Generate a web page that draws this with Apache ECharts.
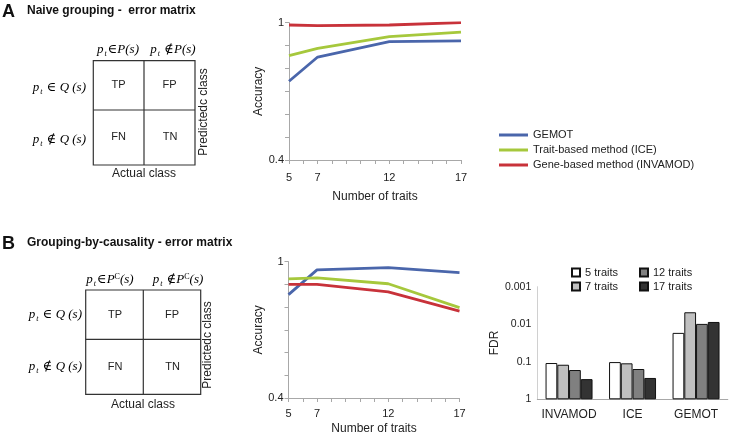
<!DOCTYPE html>
<html>
<head>
<meta charset="utf-8">
<script src="https://cdn.jsdelivr.net/npm/echarts@6/dist/echarts.min.js"></script>
<style>
html,body{margin:0;padding:0;background:#fff;}
#chart{width:729px;height:436px;}
</style>
</head>
<body>
<div id="chart"></div>
<script>
// ---- data ----
const traits = [5, 7, 12, 17];
const xTickLabels = [5, 7, 12, 17];
const yTickLabels = [0.4, 1];
const seriesNames = ['GEMOT', 'Trait-based method (ICE)', 'Gene-based method (INVAMOD)'];
const accA_GEMOT = [0.744, 0.850, 0.917, 0.921];
const accA_ICE = [0.856, 0.888, 0.939, 0.959];
const accA_INVAMOD = [0.990, 0.987, 0.990, 1.000];
const accB_GEMOT = [0.855, 0.964, 0.974, 0.952];
const accB_ICE = [0.924, 0.929, 0.903, 0.798];
const accB_INVAMOD = [0.900, 0.900, 0.867, 0.782];
const fdrCategories = ['INVAMOD', 'ICE', 'GEMOT'];
const fdrSeriesNames = ['5 traits', '7 traits', '12 traits', '17 traits'];
const fdr5 = [0.108, 0.102, 0.017];
const fdr7 = [0.120, 0.110, 0.0048];
const fdr12 = [0.166, 0.156, 0.0098];
const fdr17 = [0.290, 0.270, 0.0087];
const fdrTickLabels = [0.001, 0.01, 0.1, 1];

// ---- styles ----
const SANS = 'Liberation Sans, Arial, sans-serif';
const SERIF = 'Liberation Serif, DejaVu Serif, serif';
const lineColors = ['#4a66ab', '#a6c83c', '#c8323a'];
const barColors = ['#ffffff', '#c0c0c0', '#808080', '#333333'];
const axisGray = '#a8a8a8';

const chart = echarts.init(document.getElementById('chart'), null, {renderer: 'canvas'});

function pairs(ys) { return traits.map((x, i) => [x, ys[i]]); }

function lineX(gi) {
  return {
    type: 'value', gridIndex: gi, min: 5, max: 17, interval: 1,
    name: 'Number of traits', nameLocation: 'middle', nameGap: gi === 0 ? 31 : 25,
    nameTextStyle: {fontFamily: SANS, fontSize: 12, color: '#222'},
    axisLine: {lineStyle: {color: axisGray}},
    axisTick: {length: 4, lineStyle: {color: axisGray}},
    axisLabel: {fontFamily: SANS, fontSize: 11, color: '#222', margin: gi === 0 ? 12 : 10,
      formatter: v => xTickLabels.includes(v) ? String(v) : ''},
    splitLine: {show: false}
  };
}
function lineY(gi) {
  return {
    type: 'value', gridIndex: gi, min: 0.4, max: 1, interval: 0.1,
    name: 'Accuracy', nameLocation: 'middle', nameGap: 17,
    nameTextStyle: {fontFamily: SANS, fontSize: 12, color: '#222'},
    axisLine: {show: true, lineStyle: {color: axisGray}},
    axisTick: {show: true, length: 4, lineStyle: {color: axisGray}},
    axisLabel: {fontFamily: SANS, fontSize: 11, color: '#222', margin: 5,
      formatter: v => yTickLabels.some(t => Math.abs(t - v) < 1e-9) ? String(+v.toFixed(1)) : ''},
    splitLine: {show: false}
  };
}
function lineSeries(name, data, gi, ci) {
  return {
    type: 'line', name: name, xAxisIndex: gi, yAxisIndex: gi, data: pairs(data),
    showSymbol: false, symbol: 'none', lineStyle: {width: 2.8, color: lineColors[ci]},
    itemStyle: {color: lineColors[ci]}, silent: true, animation: false
  };
}
function barSeries(name, data, ci) {
  return {
    type: 'bar', name: name, xAxisIndex: 2, yAxisIndex: 2, data: data,
    barGap: '0%', barCategoryGap: '26%',
    itemStyle: {color: barColors[ci], borderColor: '#111', borderWidth: 1},
    animation: false
  };
}

const mathRich = {
  i: {fontFamily: SERIF, fontStyle: 'italic', fontSize: 13, color: '#222'},
  n: {fontFamily: SERIF, fontSize: 13, color: '#222'},
  sub: {fontFamily: SERIF, fontStyle: 'italic', fontSize: 8, color: '#222', verticalAlign: 'bottom', padding: [7, 1, 0, 1]},
  sup: {fontFamily: SERIF, fontSize: 8, color: '#222', verticalAlign: 'top', padding: [0, 0, 6, 0]}
};
function mathText(x, y, text, align) {
  return {type: 'text', x: x, y: y, silent: true,
    style: {text: text, rich: mathRich, align: align || 'center', verticalAlign: 'middle'}};
}
function plainText(x, y, text, opts) {
  return {type: 'text', x: x, y: y, silent: true, rotation: (opts && opts.rotation) || 0,
    style: Object.assign({text: text, fontFamily: SANS, fontSize: 12, fill: '#222', align: 'center', verticalAlign: 'middle'}, opts && opts.style)};
}
function matrix(x, y, w, h, mx, my) {
  return [
    {type: 'rect', shape: {x: x, y: y, width: w, height: h}, silent: true, style: {fill: 'none', stroke: '#333', lineWidth: 1.2}},
    {type: 'line', shape: {x1: mx, y1: y, x2: mx, y2: y + h}, silent: true, style: {stroke: '#333', lineWidth: 1.2}},
    {type: 'line', shape: {x1: x, y1: my, x2: x + w, y2: my}, silent: true, style: {stroke: '#333', lineWidth: 1.2}}
  ];
}

const graphics = [].concat(
  // Panel A
  [plainText(2, 3, 'A', {style: {fontSize: 18, fontWeight: 'bold', align: 'left', verticalAlign: 'top', fill: '#111'}}),
   plainText(27, 11, 'Naive grouping -  error matrix', {style: {fontSize: 12, fontWeight: 'bold', align: 'left', fill: '#111'}})],
  matrix(93.3, 60.7, 101.7, 104.3, 144, 110),
  [mathText(118, 50, '{i|p}{sub|t}{n|\u2208}{i|P(s)}'),
   mathText(173, 50, '{i|p}{sub|t}{n| \u2209}{i|P(s)}'),
   mathText(86, 88, '{i|p}{sub|t}{n| \u2208 }{i|Q (s)}', 'right'),
   mathText(86, 140, '{i|p}{sub|t}{n| \u2209 }{i|Q (s)}', 'right'),
   plainText(118.5, 85, 'TP', {style: {fontSize: 11}}),
   plainText(169.5, 85, 'FP', {style: {fontSize: 11}}),
   plainText(118.5, 137, 'FN', {style: {fontSize: 11}}),
   plainText(170, 137, 'TN', {style: {fontSize: 11}}),
   plainText(144, 174, 'Actual class'),
   plainText(204, 112, 'Predictedc class', {rotation: Math.PI / 2})],
  // Panel B
  [plainText(2, 235, 'B', {style: {fontSize: 18, fontWeight: 'bold', align: 'left', verticalAlign: 'top', fill: '#111'}}),
   plainText(27, 243, 'Grouping-by-causality - error matrix', {style: {fontSize: 12, fontWeight: 'bold', align: 'left', fill: '#111'}})],
  matrix(85.7, 290, 115, 104.3, 143.3, 339.3),
  [mathText(110, 280, '{i|p}{sub|t}{n|\u2208}{i|P}{sup|C}{i|(s)}'),
   mathText(178, 280, '{i|p}{sub|t}{n| \u2209}{i|P}{sup|C}{i|(s)}'),
   mathText(82, 315, '{i|p}{sub|t}{n| \u2208 }{i|Q (s)}', 'right'),
   mathText(82, 367, '{i|p}{sub|t}{n| \u2209 }{i|Q (s)}', 'right'),
   plainText(115, 315, 'TP', {style: {fontSize: 11}}),
   plainText(172, 315, 'FP', {style: {fontSize: 11}}),
   plainText(115, 367, 'FN', {style: {fontSize: 11}}),
   plainText(172.5, 367, 'TN', {style: {fontSize: 11}}),
   plainText(143, 405, 'Actual class'),
   plainText(208, 345, 'Predictedc class', {rotation: Math.PI / 2})]
);

const option = {
  backgroundColor: '#fff',
  animation: false,
  grid: [
    {left: 289, top: 22.7, width: 172, height: 137.3, containLabel: false},
    {left: 288.5, top: 261.7, width: 171, height: 138.3, containLabel: false},
    {left: 537.3, top: 286.7, width: 190.5, height: 112.6, containLabel: false}
  ],
  xAxis: [
    lineX(0), lineX(1),
    {type: 'category', gridIndex: 2, data: fdrCategories,
     axisLine: {lineStyle: {color: axisGray}}, axisTick: {show: false},
     axisLabel: {fontFamily: SANS, fontSize: 12, color: '#222', margin: 9, interval: 0, hideOverlap: false}}
  ],
  yAxis: [
    lineY(0), lineY(1),
    {type: 'log', gridIndex: 2, logBase: 10, min: 0.001, max: 1, inverse: true,
     name: 'FDR', nameLocation: 'middle', nameGap: 30,
     nameTextStyle: {fontFamily: SANS, fontSize: 12, color: '#222'},
     axisLine: {show: true, lineStyle: {color: '#d0d0d0'}},
     axisTick: {show: false},
     axisLabel: {fontFamily: SANS, fontSize: 10.5, color: '#222', margin: 6,
       formatter: v => {const t = fdrTickLabels.find(t => Math.abs(t - v) / t < 1e-6); return t === undefined ? '' : String(t);}},
     splitLine: {show: false}}
  ],
  legend: [
    {orient: 'vertical', left: 494, top: 124, itemWidth: 29, itemHeight: 3, itemGap: 3, icon: 'rect',
     data: seriesNames, selectedMode: false,
     textStyle: {fontFamily: SANS, fontSize: 11, color: '#222', lineHeight: 12}},
    {orient: 'vertical', left: 566, top: 262, itemWidth: 8, itemHeight: 8, itemGap: 3, icon: 'rect',
     data: ['5 traits', '7 traits'], selectedMode: false,
     textStyle: {fontFamily: SANS, fontSize: 11, color: '#222'}},
    {orient: 'vertical', left: 634, top: 262, itemWidth: 8, itemHeight: 8, itemGap: 3, icon: 'rect',
     data: ['12 traits', '17 traits'], selectedMode: false,
     textStyle: {fontFamily: SANS, fontSize: 11, color: '#222'}}
  ],
  series: [
    lineSeries(seriesNames[0], accA_GEMOT, 0, 0),
    lineSeries(seriesNames[1], accA_ICE, 0, 1),
    lineSeries(seriesNames[2], accA_INVAMOD, 0, 2),
    lineSeries(seriesNames[0], accB_GEMOT, 1, 0),
    lineSeries(seriesNames[1], accB_ICE, 1, 1),
    lineSeries(seriesNames[2], accB_INVAMOD, 1, 2),
    barSeries(fdrSeriesNames[0], fdr5, 0),
    barSeries(fdrSeriesNames[1], fdr7, 1),
    barSeries(fdrSeriesNames[2], fdr12, 2),
    barSeries(fdrSeriesNames[3], fdr17, 3)
  ],
  graphic: graphics
};
chart.setOption(option);
</script>
</body>
</html>
